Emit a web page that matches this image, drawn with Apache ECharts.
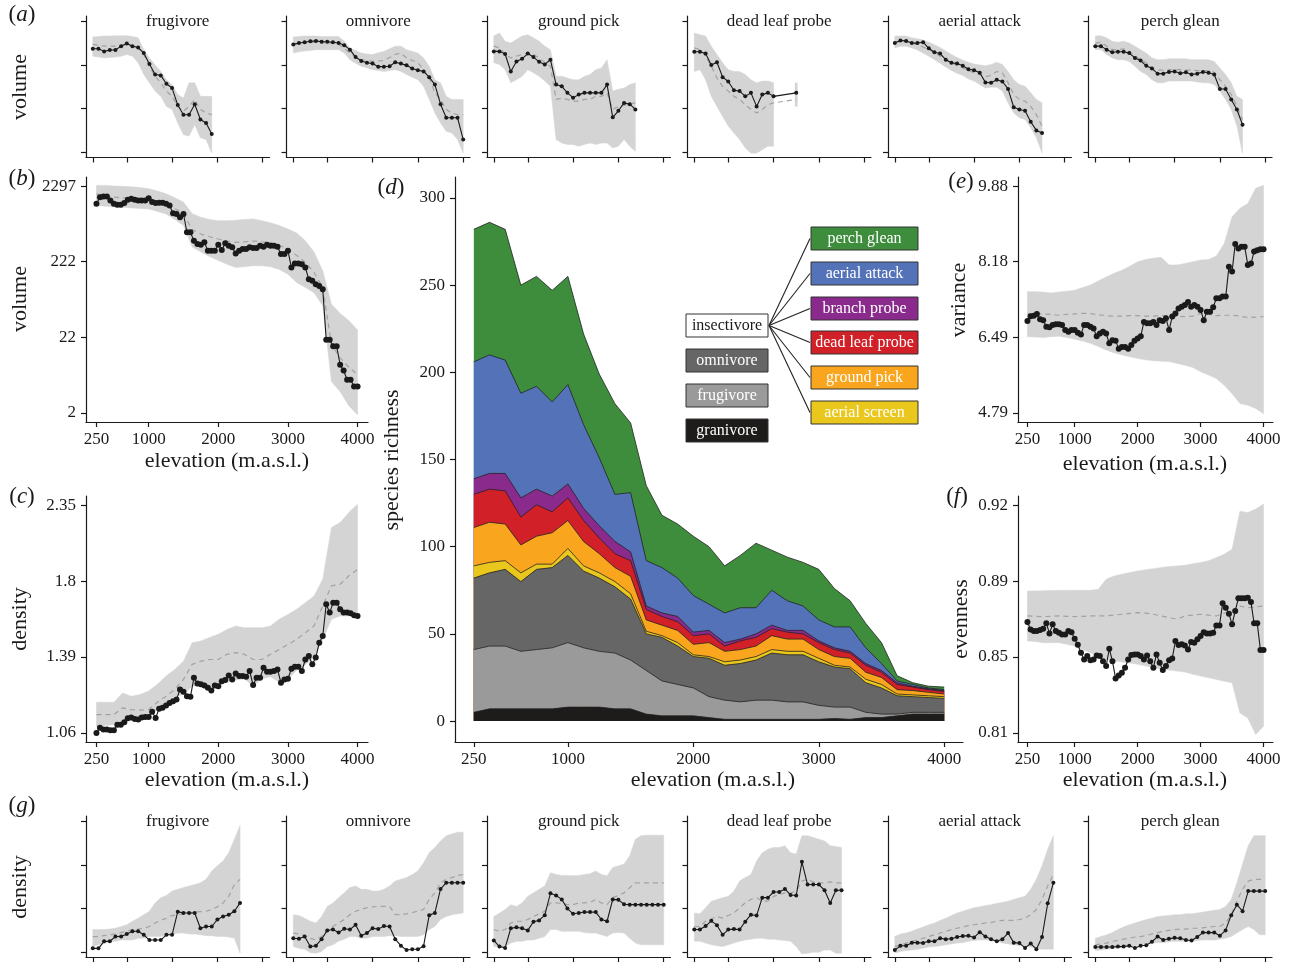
<!DOCTYPE html>
<html><head><meta charset="utf-8">
<script src="https://cdn.jsdelivr.net/npm/echarts@6.0.0/dist/echarts.min.js"></script>
<style>html,body{margin:0;padding:0;background:#fff}#c{width:1291px;height:962px}</style>
</head><body><div id="c"></div>
<script>
// ---------------- DATA ----------------
const ELEV_50 = [250,300,350,400,450,500,550,600,650,700,750,800,850,900,950,1000,1050,1100,1150,1200,1250,1300,1350,1400,1450,1500,1550,1600,1650,1700,1750,1800,1850,1900,1950,2000,2050,2100,2150,2200,2250,2300,2350,2400,2450,2500,2550,2600,2650,2700,2750,2800,2850,2900,2950,3000,3050,3100,3150,3200,3250,3300,3350,3400,3450,3500,3550,3600,3650,3700,3750,3800,3850,3900,3950,4000];
const ELEV_125 = [250,375,500,625,750,875,1000,1125,1250,1375,1500,1625,1750,1875,2000,2125,2250,2375,2500,2625,2750,2875,3000,3125,3250,3375,3500,3625,3750,3875,4000];
const X_TICKS = [250,1000,2000,3000,4000];

// (b) community volume (log axis)
const VOL_TICK_VALUES = [2.08,21.5,222,2297];
const VOL_TICK_LABELS = ['2','22','222','2297'];
const VOL_OBS = [1330,1630,1670,1670,1470,1330,1290,1290,1360,1500,1550,1500,1470,1470,1470,1580,1400,1360,1370,1370,1330,1260,990,970,880,970,550,550,425,384,376,404,312,312,312,376,318,392,364,346,287,312,328,328,346,339,339,364,353,376,364,364,353,281,281,312,186,210,210,206,186,129,123,111,105,95,20,20,16.3,16.3,9.2,7.7,5.8,5.8,4.7,4.7];
const VOL_MEAN = [1810,1700,1630,1600,1570,1550,1550,1450,1330,1150,973,600,522,480,448,420,404,410,420,410,404,370,328,270,217,160,100,17.2,11.4,8.5,6.8];
const VOL_LO = [1260,1230,1200,1190,1170,1150,1135,1050,970,820,680,350,300,260,230,205,186,190,196,196,190,175,151,117,100,85,57,5.5,4.0,2.6,1.96];
const VOL_HI = [2345,2345,2300,2280,2250,2200,2120,1980,1810,1600,1400,980,880,820,790,790,800,820,830,790,740,680,610,540,425,300,168,60,45,36,27];

// (c) community density (log axis)
const DENS_TICK_VALUES = [1.06,1.382,1.802,2.35];
const DENS_TICK_LABELS = ['1.06','1.39','1.8','2.35'];
const DENS_OBS = [1.060,1.079,1.073,1.073,1.070,1.070,1.091,1.091,1.100,1.116,1.119,1.113,1.111,1.119,1.121,1.121,1.141,1.117,1.153,1.157,1.167,1.177,1.184,1.191,1.234,1.224,1.205,1.203,1.285,1.260,1.256,1.251,1.241,1.229,1.251,1.248,1.270,1.275,1.296,1.278,1.305,1.293,1.293,1.290,1.316,1.253,1.285,1.285,1.331,1.312,1.312,1.316,1.323,1.263,1.278,1.281,1.326,1.336,1.336,1.316,1.370,1.387,1.347,1.379,1.453,1.487,1.662,1.614,1.671,1.671,1.633,1.614,1.614,1.610,1.599,1.595];
const DENS_MEAN = [1.130,1.130,1.130,1.157,1.150,1.148,1.150,1.180,1.205,1.234,1.278,1.347,1.362,1.370,1.370,1.395,1.403,1.395,1.370,1.370,1.395,1.419,1.444,1.470,1.505,1.540,1.652,1.772,1.782,1.835,1.878];
const DENS_LO = [1.085,1.088,1.091,1.100,1.111,1.118,1.124,1.150,1.177,1.205,1.212,1.248,1.250,1.245,1.250,1.265,1.275,1.280,1.250,1.280,1.290,1.265,1.280,1.320,1.345,1.380,1.470,1.577,1.595,1.595,1.595];
const DENS_HI = [1.180,1.180,1.180,1.219,1.205,1.212,1.227,1.256,1.293,1.323,1.362,1.453,1.461,1.480,1.496,1.522,1.540,1.531,1.531,1.531,1.540,1.577,1.604,1.633,1.671,1.711,1.814,2.173,2.212,2.290,2.358];

// (e) variance
const VAR_TICK_VALUES = [4.788,6.485,8.182,9.879];
const VAR_TICK_LABELS = ['4.79','6.49','8.18','9.88'];
const VAR_OBS = [6.85,6.96,6.97,7.01,6.89,6.87,6.72,6.71,6.76,6.78,6.78,6.76,6.65,6.61,6.65,6.65,6.59,6.55,6.76,6.76,6.72,6.68,6.51,6.57,6.61,6.57,6.35,6.42,6.41,6.23,6.27,6.27,6.23,6.31,6.41,6.46,6.51,6.83,6.80,6.80,6.83,6.76,6.87,6.85,6.91,6.65,6.95,7.02,7.13,7.17,7.21,7.28,7.17,7.21,7.17,7.10,6.87,7.06,7.06,7.16,7.36,7.36,7.40,7.40,8.07,7.96,8.58,8.48,8.52,8.52,8.11,8.14,8.41,8.44,8.46,8.46];
const VAR_MEAN = [7.01,7.01,7.01,7.00,6.98,7.00,7.01,7.02,7.02,6.99,6.97,6.96,6.96,6.97,6.97,6.96,6.96,6.97,6.97,6.96,6.95,6.96,7.02,7.00,6.97,6.98,6.98,6.96,6.93,6.94,6.95];
const VAR_LO = [6.50,6.49,6.48,6.50,6.51,6.48,6.44,6.40,6.35,6.28,6.20,6.14,6.09,6.05,6.01,5.98,5.96,5.95,5.94,5.90,5.86,5.81,5.71,5.64,5.56,5.41,5.22,5.00,4.96,4.89,4.77];
const VAR_HI = [7.51,7.51,7.50,7.48,7.50,7.52,7.54,7.60,7.66,7.75,7.84,7.92,7.99,8.08,8.18,8.23,8.26,8.28,8.11,8.11,8.14,8.18,8.22,8.23,8.31,8.59,9.19,9.38,9.49,9.83,9.90];

// (f) evenness
const EVEN_TICK_VALUES = [0.8136,0.8497,0.8858,0.9219];
const EVEN_TICK_LABELS = ['0.81','0.85','0.89','0.92'];
const EVEN_OBS = [.8663,.8628,.8620,.8620,.8625,.8631,.8657,.8609,.8652,.8620,.8612,.8604,.8604,.8620,.8615,.8584,.8555,.8517,.8485,.8501,.8481,.8485,.8504,.8501,.8477,.8454,.8536,.8477,.8395,.8409,.8422,.8446,.8485,.8506,.8509,.8509,.8501,.8485,.8504,.8477,.8446,.8509,.8469,.8435,.8454,.8481,.8490,.8573,.8554,.8557,.8552,.8533,.8568,.8565,.8581,.8597,.8615,.8609,.8609,.8612,.8647,.8647,.8752,.8731,.8703,.8652,.8716,.8776,.8776,.8776,.8779,.8758,.8657,.8657,.8530,.8530];
const EVEN_MEAN = [.8692,.8690,.8689,.8690,.8692,.8690,.8689,.8690,.8692,.8692,.8692,.8696,.8700,.8704,.8708,.8705,.8700,.8692,.8684,.8676,.8692,.8696,.8700,.8696,.8692,.8705,.8716,.8739,.8731,.8735,.8739];
const EVEN_LO = [.8573,.8570,.8565,.8565,.8565,.8557,.8549,.8533,.8517,.8500,.8485,.8479,.8473,.8468,.8462,.8454,.8446,.8440,.8435,.8430,.8425,.8415,.8406,.8398,.8390,.8382,.8374,.8230,.8207,.8128,.8168];
const EVEN_HI = [.8811,.8811,.8812,.8813,.8814,.8814,.8814,.8814,.8814,.8819,.8866,.8882,.8890,.8898,.8906,.8912,.8917,.8922,.8927,.8930,.8933,.8940,.8946,.8954,.8970,.8985,.9009,.9190,.9184,.9200,.9224];

// (d) species richness per guild (stacked, bottom to top)
const RICH_GRANIVORE = [5,7,7,7,7,7,8,8,8,7,7,4,3,3,3,2,1,1,1,1,1,1,1,1.5,1,2,2,3,4,4,4];
const RICH_FRUGIVORE = [36,36,36,33,34,35,37,34,32,32,28,25,20,18,16,12,11,10,11,11,10,10,8,6.5,7,3,2,1,1,1,1];
const RICH_OMNIVORE = [41,42,44,40,46,46,50,44,42,38,35,21,25,22,18,22,20,22,23,27,27,27,25,23,22,17,15,10.5,9,8.5,8];
const RICH_AERIAL_SCREEN = [7,6,5,5,3,2,4,3,3,3,3,1.5,1,2,1,1,2,2,2,2,2,2,2,1,1,2,2,1,1,1,1];
const RICH_GROUND_PICK = [22,23,21,16,16,18,16,14,11,8,10,6.5,6,7,6,8,6,6,6,8,7,7,5,5,5,4,4,2.5,2.5,2,1.5];
const RICH_DEAD_LEAF = [19,19,19,16,18,12,13,12,9,8,9,6,5,5,5,5,3,5,5,4,4,3,4,4,3,4,3,3,2,1.5,1.5];
const RICH_BRANCH_PROBE = [9,9,10,11,9,9,8,7,7,7,5,2,2,3,2,2,2,1,2,2,1,2,1,1,1,1,1,1,0.5,0.5,0.5];
const RICH_AERIAL_ATTACK = [67,68,65,60,59,54,57,48,39,27,34,26,26,22,21,15,17,18,15,20,17,14,12,12,14,9,4,1,1,0.5,0.5];
const RICH_PERCH_GLEAN = [76,76,75,62,63,64,62,52,48,52,40,43,30,31,34,33,27,30,37,23,25,25,29,22,15,14,12,3,1,1,1.5];
const RICH_TICKS = [0,50,100,150,200,250,300];

// (a) guild volume (tick units 0..3), on ELEV_125
const SMALL_TITLES = ['frugivore','omnivore','ground pick','dead leaf probe','aerial attack','perch glean'];
const VA_FRUG_OBS = [2.37,2.37,2.31,2.34,2.34,2.43,2.49,2.43,2.40,2.27,2.02,1.78,1.76,1.57,1.47,1.08,0.86,0.86,1.10,0.75,0.67,0.42];
const VA_FRUG_MEAN = [2.47,2.45,2.43,2.43,2.43,2.45,2.48,2.43,2.39,2.24,1.97,1.74,1.59,1.40,1.28,1.05,0.94,1.05,1.21,0.98,0.90,0.86];
const VA_FRUG_LO = [2.20,2.18,2.16,2.17,2.18,2.20,2.24,2.20,2.05,1.78,1.59,1.40,1.28,1.05,0.98,0.67,0.40,0.37,0.63,0.33,0.29,-0.02];
const VA_FRUG_HI = [2.64,2.65,2.66,2.66,2.67,2.67,2.67,2.65,2.62,2.35,2.16,2.00,1.85,1.66,1.55,1.32,1.24,1.59,1.59,1.28,1.28,1.28];
const VA_OMNI_OBS = [2.47,2.50,2.52,2.54,2.55,2.53,2.53,2.52,2.50,2.45,2.35,2.18,2.09,2.05,2.03,1.96,1.96,1.97,2.06,2.03,1.99,1.92,1.88,1.85,1.72,1.55,1.10,0.79,0.79,0.79,0.29];
const VA_OMNI_MEAN = [2.47,2.49,2.50,2.51,2.52,2.51,2.50,2.50,2.47,2.38,2.27,2.19,2.12,2.10,2.08,2.09,2.10,2.17,2.24,2.27,2.16,2.10,2.05,1.89,1.70,1.36,1.21,0.98,0.90,0.86,0.86];
const VA_OMNI_LO = [2.27,2.30,2.32,2.33,2.35,2.35,2.35,2.35,2.35,2.27,2.12,2.04,1.97,1.93,1.89,1.87,1.85,1.87,1.89,1.85,1.78,1.72,1.66,1.51,1.21,0.90,0.67,0.48,0.44,0.29,-0.02];
const VA_OMNI_HI = [2.64,2.65,2.66,2.66,2.66,2.65,2.65,2.65,2.65,2.54,2.39,2.33,2.27,2.25,2.24,2.28,2.31,2.37,2.43,2.43,2.35,2.31,2.27,2.16,1.97,1.66,1.59,1.28,1.21,1.21,1.21];
const VA_GPICK_OBS = [2.31,2.31,2.25,1.85,2.08,2.14,2.26,2.18,2.07,2.01,2.12,1.55,1.51,1.36,1.25,1.32,1.36,1.36,1.36,1.36,1.55,0.80,0.95,1.13,1.10,0.98];
const VA_GPICK_MEAN = [2.43,2.39,2.24,2.16,2.20,2.24,2.27,2.24,2.16,2.05,1.97,1.21,1.24,1.21,1.17,1.17,1.21,1.21,1.28,1.28,1.36,0.98,1.05,1.07,1.11,1.13];
const VA_GPICK_LO = [2.05,2.01,1.89,1.59,1.66,1.74,1.89,1.82,1.74,1.63,1.51,0.29,0.21,0.18,0.18,0.14,0.18,0.21,0.18,0.21,0.21,0.10,0.14,0.29,0.14,0.02];
const VA_GPICK_HI = [2.66,2.73,2.54,2.50,2.58,2.66,2.69,2.62,2.54,2.43,2.35,1.74,1.74,1.70,1.66,1.66,1.74,1.78,1.89,1.93,2.12,1.40,1.44,1.47,1.55,1.59];
const VA_DLP_OBS = [2.30,2.30,2.26,2.00,2.06,1.72,1.62,1.42,1.40,1.28,1.36,1.05,1.32,1.36,1.28,null,null,null,1.36];
const VA_DLP_MEAN = [2.39,2.35,2.20,1.97,1.70,1.51,1.40,1.28,1.21,1.09,0.98,0.90,0.98,1.09,1.13,null,null,null,1.21];
const VA_DLP_LO = [1.85,1.89,1.66,1.28,1.05,0.82,0.60,0.44,0.29,0.10,-0.02,-0.02,0.06,0.14,0.14,null,null,null,1.05];
const VA_DLP_HI = [2.73,2.69,2.66,2.43,2.24,2.05,1.89,1.85,1.85,1.78,1.66,1.59,1.63,1.63,1.59,null,null,null,1.59];
const VA_AATT_OBS = [2.50,2.56,2.55,2.50,2.50,2.52,2.38,2.29,2.26,2.12,2.05,2.03,1.98,1.90,1.88,1.82,1.60,1.59,1.66,1.62,1.45,1.03,0.98,0.95,0.70,0.50,0.44];
const VA_AATT_MEAN = [2.52,2.54,2.54,2.50,2.46,2.41,2.35,2.28,2.20,2.12,2.05,1.99,1.93,1.87,1.82,1.78,1.73,1.76,1.85,1.82,1.59,1.32,1.21,1.17,1.05,0.86,0.60];
const VA_AATT_LO = [2.39,2.43,2.43,2.39,2.34,2.27,2.20,2.12,2.04,1.95,1.87,1.81,1.76,1.68,1.63,1.55,1.47,1.49,1.49,1.40,1.13,0.90,0.79,0.75,0.56,0.33,-0.02];
const VA_AATT_HI = [2.66,2.66,2.66,2.62,2.60,2.57,2.52,2.46,2.40,2.32,2.24,2.17,2.11,2.06,2.02,2.00,1.98,2.01,2.06,2.01,1.85,1.66,1.55,1.51,1.36,1.21,1.13];
const VA_PGLN_OBS = [2.43,2.43,2.35,2.29,2.30,2.30,2.27,2.16,2.10,1.98,1.92,1.80,1.80,1.84,1.85,1.81,1.83,1.78,1.80,1.84,1.82,1.78,1.45,1.45,1.21,0.98,0.63];
const VA_PGLN_MEAN = [2.50,2.52,2.43,2.35,2.35,2.37,2.31,2.21,2.12,2.05,1.93,1.88,1.88,1.89,1.89,1.89,1.88,1.88,1.87,1.87,1.87,1.83,1.66,1.51,1.32,1.05,0.75];
const VA_PGLN_LO = [2.35,2.35,2.24,2.16,2.12,2.12,2.08,1.97,1.85,1.78,1.66,1.59,1.59,1.63,1.63,1.63,1.63,1.63,1.61,1.59,1.59,1.55,1.40,1.21,0.98,0.60,-0.02];
const VA_PGLN_HI = [2.66,2.67,2.62,2.54,2.52,2.54,2.50,2.43,2.35,2.27,2.16,2.12,2.12,2.14,2.14,2.14,2.14,2.12,2.12,2.12,2.12,2.08,1.93,1.78,1.59,1.28,1.21];

// (g) guild density (tick units 0..3), on ELEV_125
const DG_FRUG_OBS = [0.09,0.09,0.25,0.25,0.36,0.36,0.42,0.48,0.48,0.40,0.28,0.28,0.28,0.40,0.40,0.93,0.90,0.90,0.90,0.55,0.59,0.59,0.75,0.82,0.86,0.94,1.13];
const DG_FRUG_MEAN = [0.36,0.36,0.38,0.40,0.42,0.45,0.48,0.52,0.53,0.55,0.59,0.67,0.73,0.78,0.84,0.86,0.88,0.90,0.92,0.93,0.94,0.98,1.04,1.13,1.28,1.55,1.67];
const DG_FRUG_LO = [0.13,0.17,0.20,0.24,0.25,0.28,0.28,0.28,0.32,0.32,0.36,0.36,0.36,0.40,0.40,0.44,0.44,0.42,0.42,0.40,0.38,0.38,0.36,0.36,0.35,0.32,-0.02];
const DG_FRUG_HI = [0.52,0.52,0.52,0.53,0.55,0.59,0.63,0.71,0.78,0.86,0.94,1.13,1.25,1.30,1.40,1.44,1.48,1.52,1.55,1.59,1.67,1.86,1.98,2.09,2.28,2.59,2.90];
const DG_OMNI_OBS = [0.32,0.31,0.36,0.13,0.15,0.30,0.50,0.52,0.45,0.54,0.52,0.63,0.38,0.44,0.55,0.53,0.60,0.59,0.30,0.15,0.05,0.07,0.07,0.14,0.85,0.90,1.45,1.59,1.59,1.59,1.59];
const DG_OMNI_MEAN = [0.44,0.42,0.38,0.32,0.28,0.36,0.52,0.59,0.67,0.75,0.86,0.94,0.98,1.02,1.04,1.05,1.05,1.05,0.86,0.86,0.88,0.91,0.94,0.98,1.21,1.36,1.59,1.67,1.71,1.76,1.78];
const DG_OMNI_LO = [0.13,0.09,0.07,-0.01,-0.02,0.02,0.13,0.17,0.25,0.30,0.36,0.36,0.32,0.32,0.36,0.36,0.36,0.38,0.38,0.36,0.36,0.36,0.36,0.40,0.52,0.59,0.75,0.82,0.86,0.88,0.90];
const DG_OMNI_HI = [0.86,0.84,0.78,0.71,0.67,0.82,1.05,1.13,1.25,1.36,1.48,1.52,1.44,1.44,1.40,1.40,1.44,1.52,1.63,1.67,1.71,1.78,1.86,2.05,2.28,2.40,2.55,2.67,2.71,2.75,2.75];
const DG_GPICK_OBS = [0.27,0.13,0.10,0.55,0.57,0.55,0.50,0.70,0.73,0.85,1.35,1.30,1.21,1.00,0.88,0.90,0.92,0.92,0.92,0.75,0.71,1.21,1.20,1.10,1.09,1.09,1.09,1.09,1.09,1.09,1.09];
const DG_GPICK_MEAN = [0.52,0.48,0.52,0.67,0.71,0.71,0.75,0.82,0.88,0.94,1.13,1.13,1.12,1.09,1.09,1.13,1.13,1.14,1.21,1.13,1.09,1.25,1.30,1.36,1.48,1.59,1.59,1.59,1.59,1.59,1.59];
const DG_GPICK_LO = [0.13,0.13,0.13,0.21,0.25,0.25,0.28,0.28,0.32,0.36,0.52,0.52,0.48,0.48,0.48,0.48,0.45,0.44,0.44,0.40,0.36,0.44,0.45,0.44,0.32,0.21,0.17,0.17,0.17,0.17,0.17];
const DG_GPICK_HI = [0.82,0.90,0.98,1.09,1.05,1.13,1.28,1.36,1.44,1.52,1.82,1.78,1.76,1.76,1.75,1.76,1.78,1.80,1.86,1.78,1.75,1.94,1.98,2.02,2.21,2.59,2.67,2.68,2.68,2.68,2.68];
const DG_DLP_OBS = [0.52,0.52,0.60,0.72,0.62,0.40,0.52,0.53,0.52,0.70,0.86,0.84,1.25,1.25,1.38,1.38,1.45,1.31,1.30,2.07,1.55,1.55,1.55,1.42,1.13,1.42,1.42];
const DG_DLP_MEAN = [0.59,0.59,0.71,0.76,0.82,0.78,0.84,0.90,1.02,1.13,1.21,1.25,1.17,1.17,1.28,1.32,1.36,1.36,1.40,1.63,1.67,1.61,1.59,1.59,1.61,1.59,1.59];
const DG_DLP_LO = [0.25,0.25,0.21,0.17,0.15,0.13,0.17,0.21,0.25,0.28,0.30,0.32,0.32,0.30,0.30,0.28,0.27,0.25,0.13,-0.04,-0.02,0.00,0.00,0.05,0.05,-0.02,-0.02];
const DG_DLP_HI = [0.90,0.88,1.02,1.17,1.21,1.25,1.28,1.40,1.63,1.71,1.78,2.09,2.28,2.36,2.40,2.40,2.44,2.28,2.25,2.67,2.67,2.63,2.59,2.55,2.44,2.42,2.40];
const DG_AATT_OBS = [0.05,0.15,0.15,0.22,0.22,0.21,0.25,0.25,0.32,0.30,0.31,0.35,0.37,0.38,0.34,0.46,0.36,0.30,0.25,0.30,0.44,0.22,0.21,0.10,0.20,0.07,0.35,1.12,1.59];
const DG_AATT_MEAN = [0.13,0.17,0.21,0.25,0.28,0.32,0.36,0.40,0.44,0.48,0.52,0.55,0.58,0.61,0.63,0.65,0.67,0.68,0.71,0.73,0.73,0.73,0.75,0.78,0.86,0.98,1.21,1.52,1.78];
const DG_AATT_LO = [-0.02,0.02,0.04,0.05,0.07,0.09,0.12,0.13,0.15,0.17,0.19,0.21,0.22,0.25,0.27,0.28,0.28,0.27,0.25,0.21,0.19,0.17,0.15,0.13,0.12,0.09,0.07,0.07,0.07];
const DG_AATT_HI = [0.36,0.42,0.44,0.48,0.53,0.58,0.63,0.67,0.73,0.78,0.84,0.90,0.94,0.98,1.02,1.04,1.07,1.09,1.12,1.14,1.17,1.21,1.25,1.28,1.44,1.67,1.98,2.36,2.67];
const DG_PGLN_OBS = [0.12,0.12,0.12,0.12,0.13,0.13,0.15,0.10,0.15,0.16,0.24,0.36,0.28,0.31,0.33,0.32,0.28,0.27,0.35,0.45,0.45,0.45,0.38,0.50,0.85,1.09,0.94,1.40,1.40,1.40,1.40];
const DG_PGLN_MEAN = [0.17,0.19,0.21,0.25,0.27,0.30,0.32,0.35,0.36,0.38,0.42,0.45,0.48,0.50,0.52,0.53,0.53,0.55,0.55,0.56,0.58,0.59,0.59,0.67,0.86,1.17,1.44,1.63,1.67,1.67,1.67];
const DG_PGLN_LO = [0.04,0.05,0.07,0.08,0.10,0.12,0.13,0.15,0.17,0.19,0.21,0.22,0.22,0.24,0.25,0.25,0.25,0.25,0.27,0.28,0.28,0.28,0.30,0.32,0.36,0.44,0.52,0.59,0.52,0.40,0.40];
const DG_PGLN_HI = [0.32,0.36,0.40,0.45,0.52,0.58,0.63,0.67,0.71,0.75,0.78,0.82,0.83,0.84,0.86,0.86,0.88,0.88,0.90,0.92,0.94,0.96,0.98,1.05,1.21,1.59,2.02,2.44,2.67,2.67,2.67];
const SMALL_TICKS = [0,1,2,3];

const LEGEND_LEFT = ['insectivore','omnivore','frugivore','granivore'];
const LEGEND_RIGHT = ['perch glean','aerial attack','branch probe','dead leaf probe','ground pick','aerial screen'];

// ---------------- STYLE / LAYOUT ----------------
const FONT = '"Liberation Serif","Times New Roman","DejaVu Serif",serif';
const INK = '#1a1a1a';
const BAND_COLOR = '#d4d4d4';
const MEAN_COLOR = '#a2a2a2';
const X_MIN = 100, X_MAX = 4150;
const GUILD_COLORS = {
  'granivore':'#1e1b1b','frugivore':'#9a9a9a','omnivore':'#666666','insectivore':'#ffffff',
  'aerial screen':'#eac71c','ground pick':'#f9a51d','dead leaf probe':'#d12028',
  'branch probe':'#8a2a8c','aerial attack':'#5472b8','perch glean':'#3e8d3d'
};

const grid = [], xAxis = [], yAxis = [], series = [], graphic = [];

function nearestLabel(ticks, labels) {
  return function (v) {
    let bi = 0, bd = Infinity;
    ticks.forEach((t, i) => { const d = Math.abs(t - v); if (d < bd) { bd = d; bi = i; } });
    return labels[bi];
  };
}

function panel(o) {
  const i = grid.length;
  grid.push({left:o.left, top:o.top, width:o.width, height:o.height, containLabel:false});
  const lineStyle = {color:INK, width:1.2};
  xAxis.push({type:'value', gridIndex:i, min:X_MIN, max:X_MAX,
    axisLine:{show:true, onZero:false, lineStyle},
    axisTick:{show:true, length:5, customValues:X_TICKS, lineStyle},
    axisLabel:{show:!!o.xLabels, customValues:X_TICKS, margin:9, formatter:v => String(Math.round(v)),
      fontFamily:FONT, fontSize:17, color:INK},
    splitLine:{show:false}});
  const span = o.yTicks[o.yTicks.length-1] - o.yTicks[0];
  const pad = 0.04 * span;
  yAxis.push({type:'value', gridIndex:i, min:o.yTicks[0]-pad, max:o.yTicks[o.yTicks.length-1]+pad,
    axisLine:{show:true, onZero:false, lineStyle},
    axisTick:{show:true, length:5, customValues:o.yTicks, lineStyle},
    axisLabel:{show:!!o.yLabels, customValues:o.yTicks, margin:10,
      formatter: o.yLabels ? nearestLabel(o.yTicks, o.yLabels) : undefined,
      fontFamily:FONT, fontSize:17, color:INK},
    splitLine:{show:false}});
  return i;
}

function addBand(gi, xs, lo, hi, f) {
  const pts = lo.map((v, k) => [xs[k], v == null ? null : f(v), hi[k] == null ? null : f(hi[k])]);
  series.push({type:'custom', xAxisIndex:gi, yAxisIndex:gi, silent:true, z:1, clip:true,
    data:[[pts[0][0], pts[0][1]]],
    renderItem: function (params, api) {
      const children = [];
      let seg = [];
      const flush = () => {
        if (seg.length === 1) {
          const p = seg[0];
          const a = api.coord([p[0]-30, p[2]]), b = api.coord([p[0]+30, p[1]]);
          children.push({type:'rect', shape:{x:a[0], y:a[1], width:b[0]-a[0], height:b[1]-a[1]}, style:{fill:BAND_COLOR}});
        } else if (seg.length > 1) {
          const top = seg.map(p => api.coord([p[0], p[2]]));
          const bot = seg.map(p => api.coord([p[0], p[1]])).reverse();
          children.push({type:'polygon', shape:{points:top.concat(bot)}, style:{fill:BAND_COLOR, stroke:BAND_COLOR, lineWidth:0.5}});
        }
        seg = [];
      };
      pts.forEach(p => { if (p[1] == null || p[2] == null) flush(); else seg.push(p); });
      flush();
      return {type:'group', children};
    }});
}

function addMean(gi, xs, vals, f) {
  series.push({type:'line', xAxisIndex:gi, yAxisIndex:gi, silent:true, z:2, symbol:'none', connectNulls:true,
    data: vals.map((v, k) => [xs[k], v == null ? null : f(v)]),
    lineStyle:{color:MEAN_COLOR, width:1.2, type:[5,4]}});
}

function addObs(gi, xs, vals, f, size) {
  series.push({type:'line', xAxisIndex:gi, yAxisIndex:gi, silent:true, z:3, connectNulls:true,
    symbol:'circle', symbolSize:size, showAllSymbol:true,
    data: vals.map((v, k) => [xs[k], v == null ? null : f(v)]),
    itemStyle:{color:INK}, lineStyle:{color:INK, width:1.1}});
}

function text(x, y, str, size, opts) {
  opts = opts || {};
  graphic.push({type:'text', x, y, rotation: opts.rot || 0, silent:true, z:100,
    style:{text:str, fill: opts.fill || INK, font: size + 'px ' + FONT,
      align: opts.align || 'center', verticalAlign:'middle'}});
}
function letter(x, y, ch) {
  graphic.push({type:'text', x, y, silent:true, z:100,
    style:{text:'{n|(}{i|' + ch + '}{n|)}', align:'center', verticalAlign:'middle',
      rich:{n:{fontFamily:FONT, fontSize:23, fill:INK}, i:{fontFamily:FONT, fontSize:23, fontStyle:'italic', fill:INK}}}});
}

const ident = v => v;

// ---------- small panels ----------
const SMALL_LEFTS = [86, 286.5, 487, 687.5, 888, 1088.5];
const SMALL_W = 183.5, SMALL_H = 141.5;
const VOLUME_GUILDS = [
  [VA_FRUG_OBS, VA_FRUG_MEAN, VA_FRUG_LO, VA_FRUG_HI],
  [VA_OMNI_OBS, VA_OMNI_MEAN, VA_OMNI_LO, VA_OMNI_HI],
  [VA_GPICK_OBS, VA_GPICK_MEAN, VA_GPICK_LO, VA_GPICK_HI],
  [VA_DLP_OBS, VA_DLP_MEAN, VA_DLP_LO, VA_DLP_HI],
  [VA_AATT_OBS, VA_AATT_MEAN, VA_AATT_LO, VA_AATT_HI],
  [VA_PGLN_OBS, VA_PGLN_MEAN, VA_PGLN_LO, VA_PGLN_HI]];
const DENSITY_GUILDS = [
  [DG_FRUG_OBS, DG_FRUG_MEAN, DG_FRUG_LO, DG_FRUG_HI],
  [DG_OMNI_OBS, DG_OMNI_MEAN, DG_OMNI_LO, DG_OMNI_HI],
  [DG_GPICK_OBS, DG_GPICK_MEAN, DG_GPICK_LO, DG_GPICK_HI],
  [DG_DLP_OBS, DG_DLP_MEAN, DG_DLP_LO, DG_DLP_HI],
  [DG_AATT_OBS, DG_AATT_MEAN, DG_AATT_LO, DG_AATT_HI],
  [DG_PGLN_OBS, DG_PGLN_MEAN, DG_PGLN_LO, DG_PGLN_HI]];

[[VOLUME_GUILDS, 16], [DENSITY_GUILDS, 816]].forEach(([set, top]) => {
  set.forEach((g, k) => {
    const gi = panel({left:SMALL_LEFTS[k], top, width:SMALL_W, height:SMALL_H, yTicks:SMALL_TICKS});
    addBand(gi, ELEV_125, g[2], g[3], ident);
    addMean(gi, ELEV_125, g[1], ident);
    addObs(gi, ELEV_125, g[0], ident, 4);
    text(SMALL_LEFTS[k] + SMALL_W/2, top + 6, SMALL_TITLES[k], 17);
  });
});

// ---------- (b) volume ----------
{
  const f = Math.log10;
  const gi = panel({left:86, top:177, width:282, height:245, xLabels:true,
    yTicks:VOL_TICK_VALUES.map(f), yLabels:VOL_TICK_LABELS});
  addBand(gi, ELEV_125, VOL_LO, VOL_HI, f);
  addMean(gi, ELEV_125, VOL_MEAN, f);
  addObs(gi, ELEV_50, VOL_OBS, f, 6);
}
// ---------- (c) density ----------
{
  const f = Math.log;
  const gi = panel({left:86, top:496, width:282, height:246, xLabels:true,
    yTicks:DENS_TICK_VALUES.map(f), yLabels:DENS_TICK_LABELS});
  addBand(gi, ELEV_125, DENS_LO, DENS_HI, f);
  addMean(gi, ELEV_125, DENS_MEAN, f);
  addObs(gi, ELEV_50, DENS_OBS, f, 6);
}
// ---------- (e) variance ----------
{
  const gi = panel({left:1018, top:177, width:255, height:245, xLabels:true,
    yTicks:VAR_TICK_VALUES, yLabels:VAR_TICK_LABELS});
  addBand(gi, ELEV_125, VAR_LO, VAR_HI, ident);
  addMean(gi, ELEV_125, VAR_MEAN, ident);
  addObs(gi, ELEV_50, VAR_OBS, ident, 6);
}
// ---------- (f) evenness ----------
{
  const gi = panel({left:1018, top:496, width:255, height:246, xLabels:true,
    yTicks:EVEN_TICK_VALUES, yLabels:EVEN_TICK_LABELS});
  addBand(gi, ELEV_125, EVEN_LO, EVEN_HI, ident);
  addMean(gi, ELEV_125, EVEN_MEAN, ident);
  addObs(gi, ELEV_50, EVEN_OBS, ident, 6);
}
// ---------- (d) species richness (stack computed as running totals, painted top layer first) ----------
{
  const gi = panel({left:455, top:177, width:508, height:565, xLabels:true,
    yTicks:RICH_TICKS, yLabels:RICH_TICKS.map(String)});
  const layers = [
    ['granivore', RICH_GRANIVORE], ['frugivore', RICH_FRUGIVORE], ['omnivore', RICH_OMNIVORE],
    ['aerial screen', RICH_AERIAL_SCREEN], ['ground pick', RICH_GROUND_PICK], ['dead leaf probe', RICH_DEAD_LEAF],
    ['branch probe', RICH_BRANCH_PROBE], ['aerial attack', RICH_AERIAL_ATTACK], ['perch glean', RICH_PERCH_GLEAN]];
  let running = ELEV_125.map(() => 0);
  const tops = layers.map(([name, vals]) => {
    running = running.map((r, k) => r + vals[k]);
    return [name, running.slice()];
  });
  tops.slice().reverse().forEach(([name, cum]) => {
    series.push({type:'line', name, xAxisIndex:gi, yAxisIndex:gi, silent:true, z:2,
      symbol:'none', data: cum.map((v, k) => [ELEV_125[k], v]),
      lineStyle:{color:'#222', width:0.8},
      areaStyle:{color:GUILD_COLORS[name], opacity:1, origin:'auto'}});
  });
}

// ---------- legend of (d) ----------
{
  const LX = 686, LW = 82, RX = 811, RW = 107, BH = 23;
  const leftTops = [314, 349, 384, 419];
  const rightTops = [227, 262, 297, 331, 366, 401];
  rightTops.forEach(t => graphic.push({type:'line', silent:true, z:99,
    shape:{x1:LX + LW + 1, y1:leftTops[0] + BH/2, x2:RX - 1, y2:t + BH/2}, style:{stroke:'#222', lineWidth:1.1}}));
  LEGEND_LEFT.forEach((name, k) => {
    graphic.push({type:'rect', silent:true, z:99, shape:{x:LX, y:leftTops[k], width:LW, height:BH},
      style:{fill:GUILD_COLORS[name], stroke:'#333', lineWidth:1}});
    text(LX + LW/2, leftTops[k] + BH/2, name, 16, {fill: name === 'insectivore' ? INK : '#ffffff'});
  });
  LEGEND_RIGHT.forEach((name, k) => {
    graphic.push({type:'rect', silent:true, z:99, shape:{x:RX, y:rightTops[k], width:RW, height:BH},
      style:{fill:GUILD_COLORS[name], stroke:'#333', lineWidth:1}});
    text(RX + RW/2, rightTops[k] + BH/2, name, 16, {fill:'#ffffff'});
  });
}

// ---------- axis titles & panel letters ----------
const R = Math.PI / 2;
text(20, 87, 'volume', 22, {rot:R});
text(20, 299, 'volume', 22, {rot:R});
text(20, 619, 'density', 22, {rot:R});
text(20, 887, 'density', 22, {rot:R});
text(392, 460, 'species richness', 22, {rot:R});
text(959, 300, 'variance', 22, {rot:R});
text(961, 619, 'evenness', 22, {rot:R});
text(227, 461, 'elevation (m.a.s.l.)', 22);
text(227, 780, 'elevation (m.a.s.l.)', 22);
text(713, 780, 'elevation (m.a.s.l.)', 22);
text(1145, 464, 'elevation (m.a.s.l.)', 22);
text(1145, 780, 'elevation (m.a.s.l.)', 22);
letter(22, 15, 'a');
letter(22, 179, 'b');
letter(22, 497, 'c');
letter(391, 188, 'd');
letter(961, 182, 'e');
letter(957, 497, 'f');
letter(22, 806, 'g');

const chart = echarts.init(document.getElementById('c'), null, {renderer:'canvas', width:1291, height:962});
chart.setOption({animation:false, backgroundColor:'#ffffff', grid, xAxis, yAxis, series, graphic});
</script>
</body></html>
